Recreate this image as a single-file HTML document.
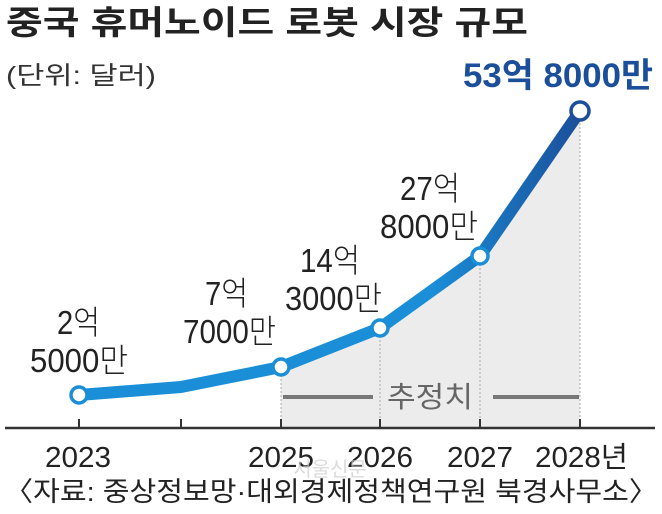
<!DOCTYPE html>
<html><head><meta charset="utf-8"><style>
body{margin:0;background:#fff;}
svg text{font-family:"Liberation Sans","Noto Sans CJK KR",sans-serif;}
</style></head><body>
<svg width="662" height="509" viewBox="0 0 662 509" xmlns="http://www.w3.org/2000/svg">
<defs>
<linearGradient id="g" x1="79" y1="0" x2="580" y2="0" gradientUnits="userSpaceOnUse">
<stop offset="0" stop-color="#1a8fd8"/><stop offset="0.7" stop-color="#1a8fd8"/><stop offset="1" stop-color="#1b4f9a"/>
</linearGradient>
</defs>
<text x="6" y="34" font-size="33" font-weight="bold" fill="#222" textLength="522" lengthAdjust="spacingAndGlyphs">중국 휴머노이드 로봇 시장 규모</text>
<text x="6" y="84" font-size="25" fill="#333" textLength="150" lengthAdjust="spacingAndGlyphs">(단위: 달러)</text>
<path d="M281 367 L380 328 L480 256 L580 111 L580 428 L281 428 Z" fill="#ececec"/>
<g stroke="#aaa" stroke-dasharray="2,2" stroke-width="1"><line x1="281" y1="367" x2="281" y2="428"/><line x1="380" y1="328" x2="380" y2="428"/><line x1="480" y1="256" x2="480" y2="428"/><line x1="580" y1="111" x2="580" y2="428"/></g>
<g stroke="#777" stroke-width="4"><line x1="283" y1="397" x2="373" y2="397"/><line x1="493" y1="397" x2="579" y2="397"/></g>
<text x="387" y="407" font-size="29" fill="#666" textLength="86" lengthAdjust="spacingAndGlyphs">추정치</text>
<line x1="5" y1="428" x2="655" y2="428" stroke="#333" stroke-width="2.5"/>
<g stroke="#333" stroke-width="2"><line x1="79" y1="419" x2="79" y2="428"/><line x1="181" y1="419" x2="181" y2="428"/><line x1="281" y1="419" x2="281" y2="428"/><line x1="380" y1="419" x2="380" y2="428"/><line x1="480" y1="419" x2="480" y2="428"/><line x1="580" y1="419" x2="580" y2="428"/></g>
<polyline points="79,395 181,387 281,367 380,328 480,256 580,111" fill="none" stroke="url(#g)" stroke-width="12" stroke-linejoin="round"/>
<g fill="#fff" stroke-width="3.5"><circle cx="79" cy="395" r="8" stroke="#1a8fd8"/><circle cx="281" cy="367" r="8" stroke="#1a8fd8"/><circle cx="380" cy="328" r="8" stroke="#1a8fd8"/><circle cx="480" cy="256" r="8" stroke="#1a8fd8"/><circle cx="580" cy="111" r="9" stroke="#1b4f9a"/></g>
<g font-size="33" fill="#222" font-weight="300">
<text x="57" y="334" textLength="43" lengthAdjust="spacingAndGlyphs">2억</text><text x="30" y="372" textLength="98" lengthAdjust="spacingAndGlyphs">5000만</text>
<text x="205" y="305" textLength="43" lengthAdjust="spacingAndGlyphs">7억</text><text x="183" y="343" textLength="93" lengthAdjust="spacingAndGlyphs">7000만</text>
<text x="300" y="272" textLength="60" lengthAdjust="spacingAndGlyphs">14억</text><text x="285" y="310" textLength="97" lengthAdjust="spacingAndGlyphs">3000만</text>
<text x="400" y="200" textLength="60" lengthAdjust="spacingAndGlyphs">27억</text><text x="380" y="238" textLength="98" lengthAdjust="spacingAndGlyphs">8000만</text>
</g>
<text x="463" y="87" font-size="34" font-weight="bold" fill="#1b4f9a" textLength="190" lengthAdjust="spacingAndGlyphs">53억 8000만</text>
<g font-size="29" fill="#222">
<text x="45" y="467" textLength="66" lengthAdjust="spacingAndGlyphs">2023</text><text x="248" y="467" textLength="66" lengthAdjust="spacingAndGlyphs">2025</text><text x="347" y="467" textLength="66" lengthAdjust="spacingAndGlyphs">2026</text><text x="447" y="467" textLength="66" lengthAdjust="spacingAndGlyphs">2027</text><text x="535" y="467" textLength="93" lengthAdjust="spacingAndGlyphs">2028년</text>
</g>
<text x="330" y="476" font-size="20" fill="#ccc" text-anchor="middle" opacity="0.7">서울신문</text>
<text x="4" y="501" font-size="27" fill="#222" textLength="654" lengthAdjust="spacingAndGlyphs">〈자료: 중상정보망·대외경제정책연구원 북경사무소〉</text>
</svg>
</body></html>
